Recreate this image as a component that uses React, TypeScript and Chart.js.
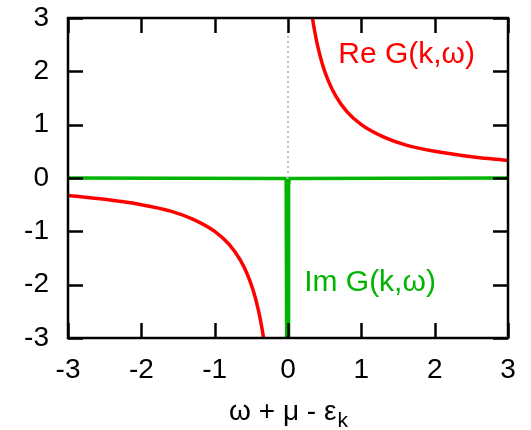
import { useEffect, useRef } from "react";
import { Chart, registerables } from "chart.js";

Chart.register(...registerables);

// Re G(k,ω): two branches of the real part, left and right of the pole
const reNegX = [-3, -2.5, -2, -1.6, -1.3, -1, -0.8, -0.65, -0.55, -0.47, -0.4, -0.36, -0.33, -0.3];
const reNegY = [-0.33, -0.4, -0.5, -0.62, -0.77, -1, -1.25, -1.54, -1.82, -2.13, -2.5, -2.78, -3.03, -3.33];
const rePosX = [0.3, 0.33, 0.36, 0.4, 0.47, 0.55, 0.65, 0.8, 1, 1.3, 1.6, 2, 2.5, 3];
const rePosY = [3.33, 3.03, 2.78, 2.5, 2.13, 1.82, 1.54, 1.25, 1, 0.77, 0.62, 0.5, 0.4, 0.33];

// Im G(k,ω): flat at zero with a narrow negative spike at the pole
const imX = [-3, -0.04, -0.025, -0.018, -0.017, 0.007, 0.008, 0.015, 0.03, 3];
const imY = [0, -0.01, -0.04, -0.15, -3.5, -3.5, -0.15, -0.04, -0.01, 0];

// vertical guide at ω + μ - ε_k = 0
const guideX = [0, 0];
const guideY = [-3, 3];

const xTicks = [-3, -2, -1, 0, 1, 2, 3];
const yTicks = [-3, -2, -1, 0, 1, 2, 3];

const reLabel = "Re G(k,ω)";
const imLabel = "Im G(k,ω)";
const xTitleMain = "ω + μ - ε";
const xTitleSub = "k";

const RED = "#ff0000";
const GREEN = "#00b400";
const FONT = '"Liberation Sans", Arial, Helvetica, sans-serif';
const TICK_LEN = 15;

const pts = (xs: number[], ys: number[]) => xs.map((x, i) => ({ x, y: ys[i] }));

const frameAndText = {
  id: "frameAndText",
  afterDatasetsDraw(chart: any) {
    const { ctx, chartArea: a, scales } = chart;
    const xs = scales.x;
    const ys = scales.y;
    ctx.save();

    // border and inward ticks on all four sides
    ctx.strokeStyle = "#000";
    ctx.lineWidth = 2.5;
    ctx.lineCap = "butt";
    ctx.strokeRect(a.left, a.top, a.right - a.left, a.bottom - a.top);
    ctx.beginPath();
    for (const v of xTicks) {
      const px = Math.round(xs.getPixelForValue(v)) + 0.5;
      ctx.moveTo(px, a.bottom);
      ctx.lineTo(px, a.bottom - TICK_LEN);
      ctx.moveTo(px, a.top);
      ctx.lineTo(px, a.top + TICK_LEN);
    }
    for (const v of yTicks) {
      const py = Math.round(ys.getPixelForValue(v)) + 0.5;
      ctx.moveTo(a.left, py);
      ctx.lineTo(a.left + TICK_LEN, py);
      ctx.moveTo(a.right, py);
      ctx.lineTo(a.right - TICK_LEN, py);
    }
    ctx.stroke();

    // series labels
    ctx.font = `30px ${FONT}`;
    ctx.textBaseline = "middle";
    ctx.fillStyle = RED;
    ctx.textAlign = "right";
    ctx.fillText(reLabel, xs.getPixelForValue(2.55), ys.getPixelForValue(2.31));
    ctx.fillStyle = GREEN;
    ctx.textAlign = "left";
    ctx.fillText(imLabel, xs.getPixelForValue(0.22), ys.getPixelForValue(-1.97));

    // x-axis title with subscript k
    ctx.fillStyle = "#000";
    ctx.textBaseline = "alphabetic";
    ctx.textAlign = "left";
    const mainFont = `28px ${FONT}`;
    const subFont = `21px ${FONT}`;
    ctx.font = mainFont;
    const wMain = ctx.measureText(xTitleMain).width;
    ctx.font = subFont;
    const wSub = ctx.measureText(xTitleSub).width;
    const cx = (a.left + a.right) / 2;
    const x0 = cx - (wMain + wSub) / 2;
    const base = a.bottom + 82;
    ctx.font = mainFont;
    ctx.fillText(xTitleMain, x0, base);
    ctx.font = subFont;
    ctx.fillText(xTitleSub, x0 + wMain + 1, base + 7);

    ctx.restore();
  },
};

export default function App() {
  const canvasRef = useRef<HTMLCanvasElement | null>(null);

  useEffect(() => {
    const canvas = canvasRef.current;
    if (!canvas) return;
    const chart = new Chart(canvas, {
      type: "line",
      data: {
        datasets: [
          {
            label: imLabel,
            data: pts(imX, imY),
            borderColor: GREEN,
            borderWidth: 3.5,
            pointRadius: 0,
            tension: 0,
            clip: 0,
          },
          {
            label: reLabel,
            data: pts(rePosX, rePosY),
            borderColor: RED,
            borderWidth: 3.5,
            pointRadius: 0,
            cubicInterpolationMode: "monotone",
            clip: 0,
          },
          {
            label: reLabel,
            data: pts(reNegX, reNegY),
            borderColor: RED,
            borderWidth: 3.5,
            pointRadius: 0,
            cubicInterpolationMode: "monotone",
            clip: 0,
          },
          {
            label: "guide",
            data: pts(guideX, guideY),
            borderColor: "#808080",
            borderWidth: 1,
            borderDash: [2, 3],
            pointRadius: 0,
            clip: 0,
          },
        ],
      },
      options: {
        animation: false,
        responsive: true,
        maintainAspectRatio: false,
        layout: { autoPadding: false, padding: { left: 0, top: 18, right: 23, bottom: 0 } },
        plugins: {
          legend: { display: false },
          tooltip: { enabled: false },
          title: { display: false },
        },
        scales: {
          x: {
            type: "linear",
            min: -3,
            max: 3,
            grid: { display: false, drawTicks: false, tickLength: 0 },
            border: { display: false },
            ticks: {
              stepSize: 1,
              padding: 15,
              color: "#000",
              font: { family: FONT, size: 28 },
              maxRotation: 0,
              autoSkip: false,
            },
            afterFit: (s: any) => {
              s.height = 92;
              s.paddingLeft = 0;
              s.paddingRight = 0;
            },
          },
          y: {
            type: "linear",
            min: -3,
            max: 3,
            grid: { display: false, drawTicks: false, tickLength: 0 },
            border: { display: false },
            ticks: {
              stepSize: 1,
              padding: 19,
              color: "#000",
              font: { family: FONT, size: 28 },
              autoSkip: false,
            },
            afterFit: (s: any) => {
              s.width = 68;
              s.paddingTop = 0;
              s.paddingBottom = 0;
            },
          },
        },
      },
      plugins: [frameAndText],
    });
    return () => chart.destroy();
  }, []);

  return (
    <div style={{ position: "fixed", left: 0, top: 0, width: 531, height: 430, background: "#fff" }}>
      <canvas ref={canvasRef} />
    </div>
  );
}
